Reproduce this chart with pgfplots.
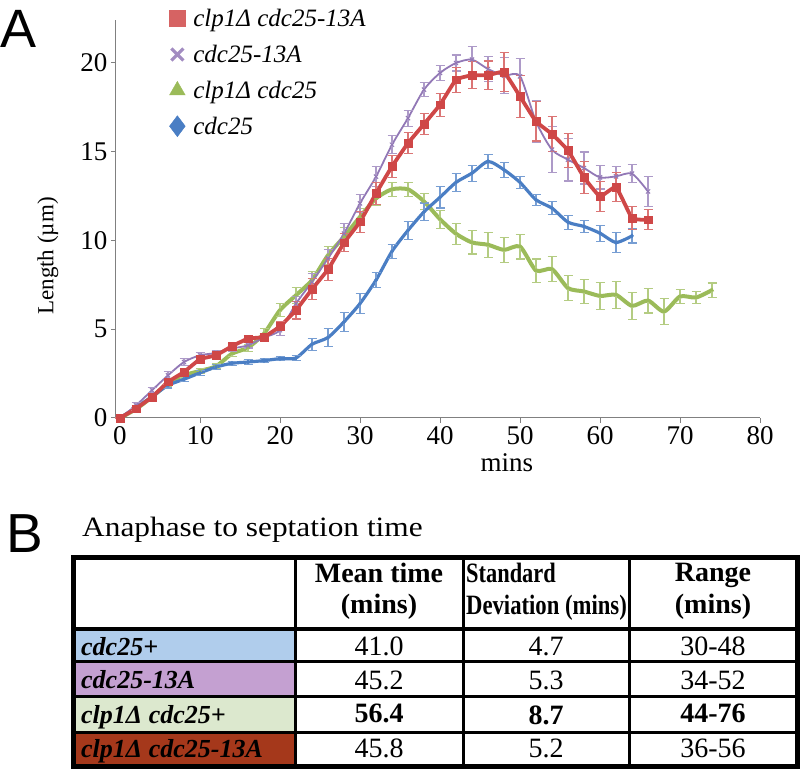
\documentclass[border=0pt]{standalone}
\usepackage{fontspec}
\setmainfont{Liberation Serif}
\newfontfamily\arialfont{Liberation Sans}
\usepackage{graphicx}
\usepackage{pgfplots}
\pgfplotsset{compat=1.18}
\usepackage{pgfplotstable}

\definecolor{cblue}{HTML}{4A7EC4}
\definecolor{cred}{HTML}{CF4747}
\definecolor{cgreen}{HTML}{9BBB59}
\definecolor{cpurple}{HTML}{9278B6}
\definecolor{axgray}{HTML}{808080}
\definecolor{tblue}{HTML}{B0CDEC}
\definecolor{tpurple}{HTML}{C4A0D1}
\definecolor{tgreen}{HTML}{DCE8CE}
\definecolor{tred}{HTML}{A5381B}

% cdc25
\pgfplotstableread{
x y e
0 0 0.05
2 0.60 0.10
4 1.20 0.12
6 1.84 0.15
8 2.18 0.15
10 2.54 0.15
12 2.87 0.12
14 3.08 0.12
16 3.15 0.12
18 3.23 0.12
20 3.34 0.12
22 3.38 0.12
24 4.15 0.33
26 4.53 0.50
28 5.41 0.52
30 6.44 0.56
32 7.76 0.42
34 9.38 0.40
36 10.56 0.50
38 11.60 0.50
40 12.42 0.60
42 13.26 0.50
44 13.78 0.45
46 14.44 0.38
48 13.97 0.42
50 13.26 0.35
52 12.28 0.30
54 11.81 0.35
56 11.02 0.40
58 10.78 0.35
60 10.40 0.45
62 9.88 0.55
64 10.25 0.40
}\tblue

% clp1D cdc25-13A
\pgfplotstableread{
x y e
0 0 0.05
2 0.53 0.10
4 1.18 0.15
6 2.03 0.15
8 2.59 0.18
10 3.31 0.20
12 3.53 0.20
14 4.04 0.15
16 4.47 0.15
18 4.56 0.20
20 5.16 0.25
22 6.07 0.50
24 7.25 0.60
26 8.36 0.60
28 9.86 0.50
30 11.04 0.60
32 12.64 0.60
34 14.16 0.60
36 15.47 0.60
38 16.54 0.60
40 17.63 0.65
42 19.04 0.70
44 19.29 0.75
46 19.29 0.80
48 19.47 1.10
50 18.10 1.20
52 16.69 1.10
54 15.98 1.00
56 15.06 0.95
58 13.54 0.90
60 12.47 0.85
62 13.00 0.80
64 11.25 0.65
66 11.15 0.56
}\tred

% cdc25-13A
\pgfplotstableread{
x y e
0 0 0.05
2 0.71 0.15
4 1.56 0.15
6 2.40 0.20
8 3.15 0.20
10 3.53 0.15
12 3.66 0.15
14 3.91 0.15
16 4.09 0.15
18 4.53 0.20
20 4.94 0.30
22 6.44 0.40
24 7.66 0.45
26 8.98 0.50
28 10.38 0.55
30 12.08 0.50
32 13.58 0.55
34 15.38 0.50
36 16.88 0.45
38 18.48 0.40
40 19.42 0.40
42 19.98 0.45
44 20.17 0.75
46 19.64 0.70
48 19.27 1.00
50 19.23 1.00
52 16.69 1.20
54 15.10 1.30
56 14.54 1.20
58 14.07 0.90
60 13.54 0.65
62 13.60 0.55
64 13.75 0.50
66 12.75 0.85
}\tpurple

% clp1D cdc25
\pgfplotstableread{
x y e
0 0 0.05
2 0.50 0.10
4 1.18 0.10
6 1.93 0.15
8 2.40 0.15
10 2.65 0.15
12 2.91 0.15
14 3.62 0.15
16 3.96 0.20
18 4.75 0.30
20 6.07 0.35
22 6.91 0.45
24 7.76 0.50
26 9.16 0.50
28 10.20 0.50
30 11.32 0.45
32 12.36 0.40
34 12.87 0.40
36 12.87 0.40
38 12.19 0.45
40 11.19 0.50
42 10.37 0.60
44 9.88 0.65
46 9.75 0.70
48 9.46 0.70
50 9.65 0.70
52 8.30 0.65
54 8.38 0.70
56 7.31 0.70
58 7.12 0.70
60 6.87 0.75
62 6.93 0.75
64 6.31 0.75
66 6.61 0.70
68 5.99 0.75
70 6.84 0.40
72 6.78 0.35
74 7.20 0.40
}\tgreen

\newcommand{\tabnum}{\fontsize{28}{30}\selectfont}
\newcommand{\tabhead}{\fontsize{28}{30}\selectfont\bfseries}
\newcommand{\tabrow}{\fontsize{26}{28}\selectfont\bfseries\itshape}

\begin{document}
\begin{tikzpicture}
\useasboundingbox (0pt,0pt) rectangle (812pt,774pt);

% Panel labels
\node[anchor=base west, inner sep=0pt, font=\arialfont\fontsize{54}{56}\selectfont] at (0pt,726pt) {A};
\node[anchor=base west, inner sep=0pt, font=\arialfont\fontsize{55}{57}\selectfont] at (6pt,221pt) {B};

\begin{axis}[
  at={(116pt,356pt)}, anchor=south west,
  scale only axis, width=644pt, height=398pt,
  xmin=-0.5, xmax=80, ymin=0, ymax=22.4,
  axis lines=left,
  axis line style={-, draw=axgray, line width=1pt},
  xtick={0,10,...,80}, ytick={0,5,10,15,20},
  tick align=outside, major tick length=5pt,
  tick style={draw=axgray, line width=1pt},
  tick label style={font=\fontsize{27}{29}\selectfont},
  /pgf/number format/assume math mode=true,
  xlabel={mins},
  xlabel style={at={(axis description cs:0.607,-0.113)}, anchor=center, font=\fontsize{27}{29}\selectfont},
  ylabel={Length (µm)},
  ylabel style={at={(axis description cs:-0.1056,0.407)}, anchor=center, font=\fontsize{23}{25}\selectfont},
  clip=false,
  legend style={draw=none, fill=none, at={(axis description cs:0.081,1.035)}, anchor=north west,
     font=\fontsize{25}{27}\selectfont\itshape, row sep=13pt, inner sep=1pt},
  legend cell align=left,
  legend image code/.code={\path[draw=none, fill=none] (0pt,0pt) (22pt,0pt);
     \draw[#1, /tikz/only marks] plot coordinates {(8pt,0pt)};},
]
% green
\addplot[forget plot, color=cgreen, line width=4pt, smooth, tension=0.4,
   mark=triangle*, mark size=2pt, mark options={solid, line width=0.5pt},
   error bars/.cd, y dir=both, y explicit,
   error bar style={color=cgreen!75!white, line width=1.1pt},
   error mark options={rotate=90, mark size=4.5pt, color=cgreen!75!white, line width=1.1pt}]
   table[x=x, y=y, y error=e] {\tgreen};
% blue
\addplot[forget plot, color=cblue, line width=3.2pt, smooth, tension=0.4,
   mark=diamond*, mark size=2pt, mark options={solid, line width=0.5pt},
   error bars/.cd, y dir=both, y explicit,
   error bar style={color=cblue!75!white, line width=1.1pt},
   error mark options={rotate=90, mark size=4.5pt, color=cblue!75!white, line width=1.1pt}]
   table[x=x, y=y, y error=e] {\tblue};
% purple
\addplot[forget plot, color=cpurple, line width=1.8pt, smooth, tension=0.45,
   mark=x, mark size=3pt, mark options={solid, line width=1pt},
   error bars/.cd, y dir=both, y explicit,
   error bar style={color=cpurple!75!white, line width=1.1pt},
   error mark options={rotate=90, mark size=4.5pt, color=cpurple!75!white, line width=1.1pt}]
   table[x=x, y=y, y error=e] {\tpurple};
% red
\addplot[forget plot, color=cred, line width=3.8pt, smooth, tension=0.2,
   mark=square*, mark size=3.8pt, mark options={solid, line width=0.5pt},
   error bars/.cd, y dir=both, y explicit,
   error bar style={color=cred!75!white, line width=1.1pt},
   error mark options={rotate=90, mark size=4.5pt, color=cred!75!white, line width=1.1pt}]
   table[x=x, y=y, y error=e] {\tred};

\addlegendimage{only marks, mark=square*, mark size=8pt, color=cred!85!white}
\addlegendentry{clp1Δ cdc25-13A}
\addlegendimage{only marks, mark=x, mark size=8.5pt, mark options={line width=3.2pt}, color=cpurple!85!white}
\addlegendentry{cdc25-13A}
\addlegendimage{only marks, mark=triangle*, mark size=9pt, color=cgreen}
\addlegendentry{clp1Δ cdc25}
\addlegendimage{only marks, mark=diamond*, mark size=10.5pt, color=cblue}
\addlegendentry{cdc25}
\end{axis}

% Panel B title
\node[anchor=base west, inner sep=0pt] at (82pt,237pt)
  {\scalebox{1.12}[1]{\fontsize{28}{30}\selectfont Anaphase to septation time}};

% Table fills
\fill[tblue]   (73pt,145pt) rectangle (295pt,112pt);
\fill[tpurple] (73pt,112pt) rectangle (295pt,77pt);
\fill[tgreen]  (73pt,77pt)  rectangle (295pt,41pt);
\fill[tred]    (73pt,41pt)  rectangle (295pt,7pt);

% Inner lines
\draw[line width=3.5pt] (73pt,145pt) -- (797pt,145pt);
\draw[line width=3pt] (73pt,112pt) -- (797pt,112pt);
\draw[line width=3pt] (73pt,77pt) -- (797pt,77pt);
\draw[line width=3pt] (73pt,41pt) -- (797pt,41pt);
\draw[line width=3pt] (295pt,216pt) -- (295pt,7pt);
\draw[line width=3pt] (463pt,216pt) -- (463pt,7pt);
\draw[line width=3pt] (629pt,216pt) -- (629pt,7pt);
% Outer border
\draw[line width=5pt] (73pt,216pt) rectangle (797pt,7pt);

% Header
\node[anchor=base, inner sep=0pt, font=\tabhead] at (379pt,191pt) {Mean time};
\node[anchor=base, inner sep=0pt, font=\tabhead] at (379pt,160pt) {(mins)};
\node[anchor=base west, inner sep=0pt] at (466pt,191pt) {\scalebox{0.8}[1]{\tabhead Standard}};
\node[anchor=base west, inner sep=0pt] at (466pt,159pt) {\scalebox{0.81}[1]{\tabhead Deviation (mins)}};
\node[anchor=base, inner sep=0pt, font=\tabhead] at (713pt,192pt) {Range};
\node[anchor=base, inner sep=0pt, font=\tabhead] at (713pt,160pt) {(mins)};

% Row labels
\node[anchor=base west, inner sep=0pt, font=\tabrow] at (81pt,118pt) {cdc25+};
\node[anchor=base west, inner sep=0pt, font=\tabrow] at (81pt,85pt) {cdc25-13A};
\node[anchor=base west, inner sep=0pt, font=\tabrow] at (81pt,50pt) {clp1Δ cdc25+};
\node[anchor=base west, inner sep=0pt, font=\tabrow] at (81pt,16pt) {clp1Δ cdc25-13A};

% Values
\node[anchor=base, inner sep=0pt, font=\tabnum] at (379pt,118pt) {41.0};
\node[anchor=base, inner sep=0pt, font=\tabnum] at (546pt,118pt) {4.7};
\node[anchor=base, inner sep=0pt, font=\tabnum] at (713pt,118pt) {30-48};
\node[anchor=base, inner sep=0pt, font=\tabnum] at (379pt,84pt) {45.2};
\node[anchor=base, inner sep=0pt, font=\tabnum] at (546pt,84pt) {5.3};
\node[anchor=base, inner sep=0pt, font=\tabnum] at (713pt,84pt) {34-52};
\node[anchor=base, inner sep=0pt, font=\tabnum\bfseries] at (379pt,51pt) {56.4};
\node[anchor=base, inner sep=0pt, font=\tabnum\bfseries] at (546pt,49pt) {8.7};
\node[anchor=base, inner sep=0pt, font=\tabnum\bfseries] at (713pt,51pt) {44-76};
\node[anchor=base, inner sep=0pt, font=\tabnum] at (379pt,16pt) {45.8};
\node[anchor=base, inner sep=0pt, font=\tabnum] at (546pt,16pt) {5.2};
\node[anchor=base, inner sep=0pt, font=\tabnum] at (713pt,16pt) {36-56};
\end{tikzpicture}
\end{document}
